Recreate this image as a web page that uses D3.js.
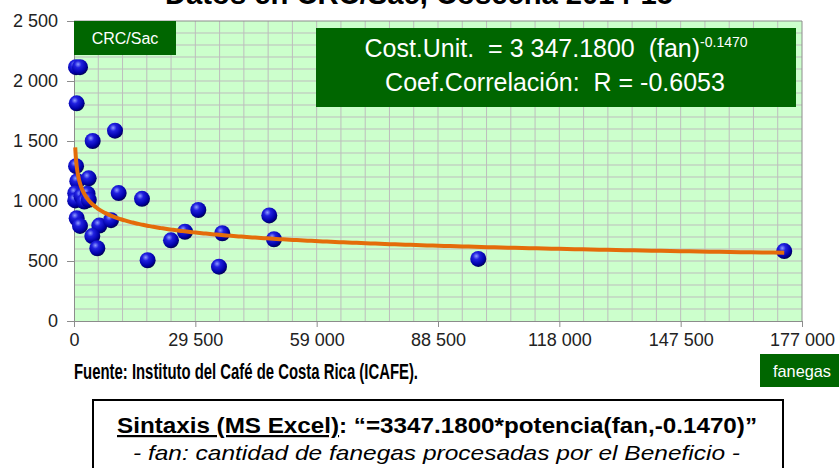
<!DOCTYPE html>
<html>
<head>
<meta charset="utf-8">
<script src="https://cdn.jsdelivr.net/npm/d3@7"></script>
<style>
  body { margin: 0; background: #fff; }
  svg { display: block; font-family: "Liberation Sans", Arial, sans-serif; }
  text { white-space: pre; }
</style>
</head>
<body>
<svg id="chart" width="839" height="468"></svg>
<script>
// ---- Data ----
const fanegas = [490, 1460, 650, 4540, 9970, 500, 800, 3570, 300, 300, 1800, 3300, 2500, 3600,
  10860, 16530, 30220, 650, 1460, 6150, 9000, 4450, 5670, 17900, 23580, 26980, 36050, 35250,
  47480, 48620, 98290, 172680];
const costoSac = [2115, 2115, 1814, 1500, 1586, 1290, 1165, 1189, 1065, 1005, 1040, 1060, 995, 1010,
  1066, 1018, 925, 856, 792, 795, 840, 708, 606, 506, 672, 744, 731, 453,
  880, 681, 517, 583];
const xTicks = [0, 29500, 59000, 88500, 118000, 147500, 177000];
const yTicks = [0, 500, 1000, 1500, 2000, 2500];
const coefA = 3347.18;
const coefB = -0.147;
const titleText = "Datos en CRC/Sac, Cosecha 2014-15";
const eqLine1 = "Cost.Unit.  = 3 347.1800  (fan)";
const eqExp = "-0.1470";
const eqLine2 = "Coef.Correlación:  R = -0.6053";
const yUnit = "CRC/Sac";
const xUnit = "fanegas";
const sourceText = "Fuente: Instituto del Café de Costa Rica (ICAFE).";
const syntaxLabel = "Sintaxis (MS Excel)";
const syntaxFormula = ": “=3347.1800*potencia(fan,-0.1470)”";
const noteText = "- fan: cantidad de fanegas procesadas por el Beneficio -";

// ---- Layout ----
const svg = d3.select("#chart");
const pL = 74, pR = 802, pT = 21, pB = 321;
const x = d3.scaleLinear().domain([0, 177000]).range([pL, pR]);
const y = d3.scaleLinear().domain([0, 2500]).range([pB, pT]);

const defs = svg.append("defs");
const grad = defs.append("radialGradient").attr("id", "ball")
  .attr("cx", "38%").attr("cy", "32%").attr("r", "70%");
grad.append("stop").attr("offset", "0%").attr("stop-color", "#8f9cff");
grad.append("stop").attr("offset", "30%").attr("stop-color", "#2020e0");
grad.append("stop").attr("offset", "75%").attr("stop-color", "#0000a8");
grad.append("stop").attr("offset", "100%").attr("stop-color", "#000050");

// Title (mostly cut off at top, as in the reference)
svg.append("text").attr("x", 165).attr("y", 4)
  .attr("font-size", 30).attr("font-weight", "bold").attr("fill", "#000")
  .attr("textLength", 508).attr("lengthAdjust", "spacingAndGlyphs")
  .text(titleText);

// Plot background
svg.append("rect").attr("x", pL).attr("y", pT)
  .attr("width", pR - pL).attr("height", pB - pT).attr("fill", "#ccffcc");

// Gridlines
const g = svg.append("g");
g.selectAll("line.v").data(d3.range(5900, 177000, 5900)).join("line").attr("class", "v")
  .attr("x1", d => x(d)).attr("x2", d => x(d)).attr("y1", pT).attr("y2", pB)
  .attr("stroke", "#bdbdbd").attr("stroke-width", 1);
g.selectAll("line.h").data(d3.range(100, 2500, 100)).join("line").attr("class", "h")
  .attr("x1", pL).attr("x2", pR).attr("y1", d => y(d)).attr("y2", d => y(d))
  .attr("stroke", "#bdbdbd").attr("stroke-width", 1);

// Plot border (top/right)
svg.append("path").attr("d", `M${pL},${pT}H${pR}V${pB}`)
  .attr("fill", "none").attr("stroke", "#8c8c8c").attr("stroke-width", 1);

// Axes
const fmt = d => d3.format(",")(d).replace(/,/g, " ");
const xAxis = svg.append("g").attr("transform", `translate(0,${pB})`)
  .call(d3.axisBottom(x).tickValues(xTicks).tickSize(6).tickPadding(6).tickFormat(fmt));
const yAxis = svg.append("g").attr("transform", `translate(${pL},0)`)
  .call(d3.axisLeft(y).tickValues(yTicks).tickSize(7).tickPadding(9).tickFormat(fmt));
[xAxis, yAxis].forEach(a => {
  a.select(".domain").attr("stroke", "#8c8c8c");
  a.selectAll(".tick line").attr("stroke", "#8c8c8c");
  a.selectAll(".tick text").attr("font-size", 18).attr("fill", "#222")
    .attr("font-family", "Liberation Sans, Arial, sans-serif");
});

// CRC/Sac box
svg.append("rect").attr("x", pL).attr("y", pT).attr("width", 102).attr("height", 34)
  .attr("fill", "#006600");
svg.append("text").attr("x", 125).attr("y", 44).attr("text-anchor", "middle")
  .attr("font-size", 16).attr("fill", "#fff").text(yUnit);

// Equation box
svg.append("rect").attr("x", 316).attr("y", 28).attr("width", 480).attr("height", 79)
  .attr("fill", "#006600");
const eq1 = svg.append("text").attr("x", 556).attr("y", 57).attr("text-anchor", "middle")
  .attr("font-size", 25).attr("fill", "#fff");
eq1.append("tspan").text(eqLine1);
eq1.append("tspan").attr("dy", -10).attr("font-size", 14).text(eqExp);
svg.append("text").attr("x", 555).attr("y", 91).attr("text-anchor", "middle")
  .attr("font-size", 25).attr("fill", "#fff").text(eqLine2);

// Data points
svg.append("g").selectAll("circle").data(fanegas.map((d, i) => [d, costoSac[i]])).join("circle")
  .attr("cx", d => x(d[0])).attr("cy", d => y(d[1])).attr("r", 8)
  .attr("fill", "url(#ball)");

// Power trendline
const xMin = d3.min(fanegas), xMax = d3.max(fanegas);
const trend = d3.range(0, 401).map(i => {
  const t = i / 400;
  const fx = Math.exp(Math.log(xMin) + t * (Math.log(xMax) - Math.log(xMin)));
  return [fx, coefA * Math.pow(fx, coefB)];
});
svg.append("path").datum(trend)
  .attr("d", d3.line().x(d => x(d[0])).y(d => y(d[1])))
  .attr("fill", "none").attr("stroke", "#e46c0a").attr("stroke-width", 4);

// Source
svg.append("text").attr("x", 74).attr("y", 379)
  .attr("font-size", 22).attr("font-weight", "bold").attr("fill", "#000")
  .attr("textLength", 344).attr("lengthAdjust", "spacingAndGlyphs")
  .text(sourceText);

// fanegas box
svg.append("rect").attr("x", 760).attr("y", 354).attr("width", 79).attr("height", 33)
  .attr("fill", "#006600");
svg.append("text").attr("x", 802).attr("y", 377).attr("text-anchor", "middle")
  .attr("font-size", 17).attr("fill", "#fff")
  .attr("textLength", 58).attr("lengthAdjust", "spacingAndGlyphs").text(xUnit);

// Syntax box
svg.append("rect").attr("x", 93).attr("y", 400).attr("width", 690).attr("height", 90)
  .attr("fill", "#fff").attr("stroke", "#000").attr("stroke-width", 2);
const s1 = svg.append("text").attr("x", 117).attr("y", 433)
  .attr("font-size", 22).attr("font-weight", "bold").attr("fill", "#000")
  .attr("textLength", 640).attr("lengthAdjust", "spacingAndGlyphs");
s1.append("tspan").attr("text-decoration", "underline").text(syntaxLabel);
s1.append("tspan").text(syntaxFormula);
svg.append("text").attr("x", 133).attr("y", 460)
  .attr("font-size", 21).attr("font-style", "italic").attr("fill", "#000")
  .attr("textLength", 607).attr("lengthAdjust", "spacingAndGlyphs")
  .text(noteText);
</script>
</body>
</html>
